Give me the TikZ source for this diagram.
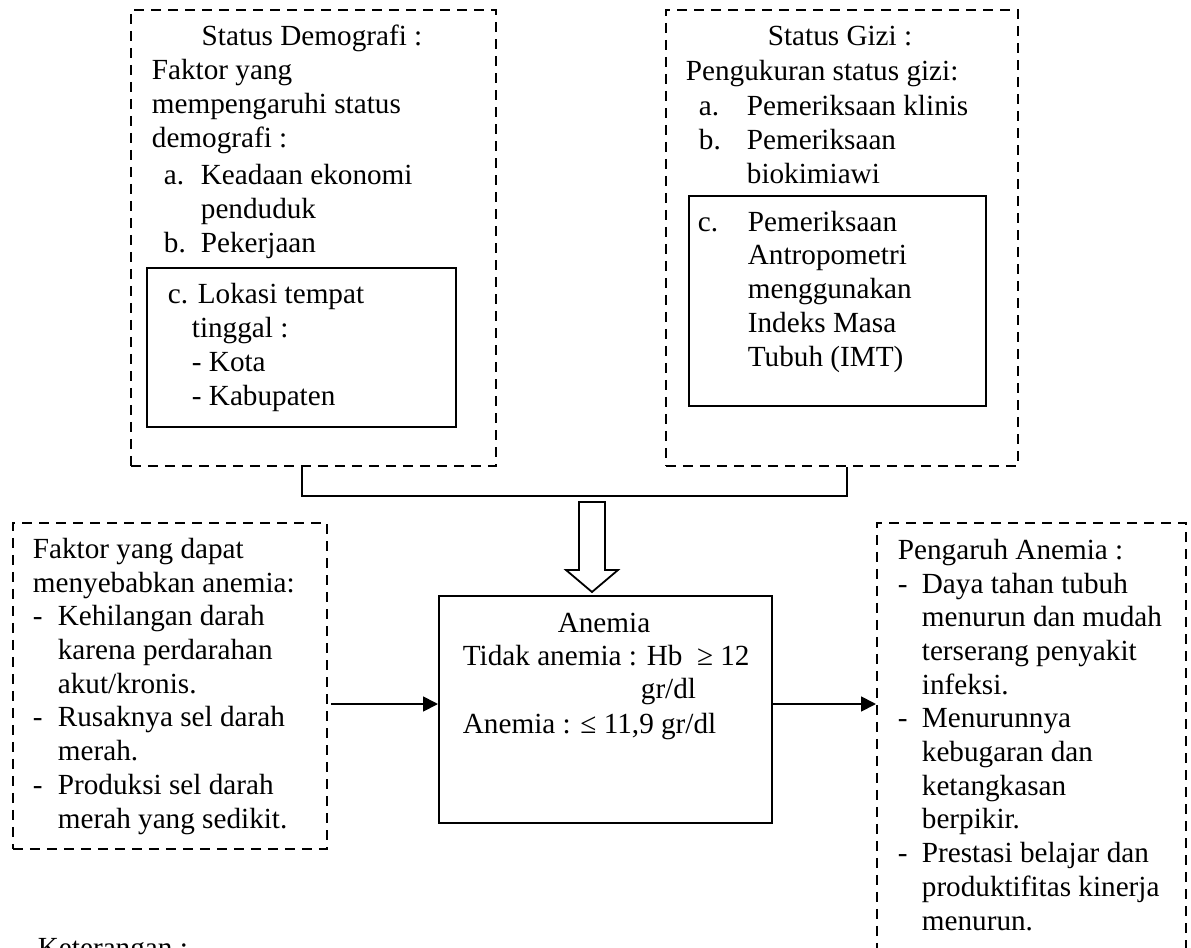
\documentclass[tikz,border=0pt]{standalone}
\usepackage{fontspec}
\setmainfont{Liberation Serif}
\usetikzlibrary{arrows.meta}

\newcommand{\bodyfont}{\fontsize{14.6pt}{16.85pt}\selectfont}

\begin{document}
\begin{tikzpicture}[x=0.5pt,y=-0.5pt,>={Triangle[length=7.5pt,width=7.5pt]},line width=0.9pt,
    dashbox/.style={draw,dash pattern=on 5pt off 3.5pt,anchor=north west,inner sep=0pt},
    solidbox/.style={draw,anchor=north west,inner sep=0pt},
    txt/.style={anchor=base west,inner sep=0pt,align=left,font=\bodyfont},
    ttl/.style={anchor=base,inner sep=0pt,font=\bodyfont}]
      \clip (0,0) rectangle (1191,948);

      % boxes
      \node[dashbox, minimum width=182.5pt, minimum height=228pt] (demo) at (130,9) {};
      \node[solidbox, minimum width=154.5pt, minimum height=79.5pt] (lokasi) at (146,267) {};
      \node[dashbox, minimum width=176pt, minimum height=228pt] (gizi) at (665,9) {};
      \node[solidbox, minimum width=148.5pt, minimum height=105pt] (antro) at (688,195) {};
      \node[dashbox, minimum width=157pt, minimum height=163pt] (sebab) at (12,522) {};
      \node[solidbox, minimum width=166.5pt, minimum height=113.5pt] (anemia) at (438,595) {};
      \node[dashbox, minimum width=154.5pt, minimum height=229pt] (pengaruh) at (876,522) {};

      % status demografi (multi-line texts sit on their last baseline)
      \node[ttl] (demotitle) at (312,45) {Status Demografi :};
      \node[txt] (demotext) at (151,147) {Faktor yang\\mempengaruhi status\\demografi :};
      \node[txt] (demolist) at (163,252) {\makebox[18.5pt][l]{a.}Keadaan ekonomi\\\hspace*{18.5pt}penduduk\\\makebox[18.5pt][l]{b.}Pekerjaan};
      \node[txt] (lokasitext) at (167,405) {c. Lokasi tempat\\\hspace*{12pt}tinggal :\\\hspace*{12pt}- Kota\\\hspace*{12pt}- Kabupaten};

      % status gizi
      \node[ttl] (gizititle) at (840,45) {Status Gizi :};
      \node[txt] (gizitext) at (685,80) {Pengukuran status gizi:};
      \node[txt] (gizilist) at (698,183) {\makebox[24pt][l]{a.}Pemeriksaan klinis\\\makebox[24pt][l]{b.}Pemeriksaan\\\hspace*{24pt}biokimiawi};
      \node[txt] (antrotext) at (697,366) {\makebox[25pt][l]{c.}Pemeriksaan\\\hspace*{25pt}Antropometri\\\hspace*{25pt}menggunakan\\\hspace*{25pt}Indeks Masa\\\hspace*{25pt}Tubuh (IMT)};

      % penyebab, anemia, pengaruh
      \node[txt] (sebabtext) at (32,828) {Faktor yang dapat\\menyebabkan anemia:\\\makebox[12.5pt][l]{-}Kehilangan darah\\\hspace*{12.5pt}karena perdarahan\\\hspace*{12.5pt}akut/kronis.\\\makebox[12.5pt][l]{-}Rusaknya sel darah\\\hspace*{12.5pt}merah.\\\makebox[12.5pt][l]{-}Produksi sel darah\\\hspace*{12.5pt}merah yang sedikit.};
      \node[ttl] (anemiatitle) at (604,632) {Anemia};
      \node[txt] (anemiaa) at (462,665) {Tidak anemia : Hb \ ≥ 12};
      \node[txt] (anemiab) at (640,698) {gr/dl};
      \node[txt] (anemiac) at (462,733) {Anemia : ≤ 11,9 gr/dl};
      \node[txt] (pengaruhtext) at (897,930) {Pengaruh Anemia :\\\makebox[12pt][l]{-}Daya tahan tubuh\\\hspace*{12pt}menurun dan mudah\\\hspace*{12pt}terserang penyakit\\\hspace*{12pt}infeksi.\\\makebox[12pt][l]{-}Menurunnya\\\hspace*{12pt}kebugaran dan\\\hspace*{12pt}ketangkasan\\\hspace*{12pt}berpikir.\\\makebox[12pt][l]{-}Prestasi belajar dan\\\hspace*{12pt}produktifitas kinerja\\\hspace*{12pt}menurun.};
      \node[txt] (ket) at (37,957) {Keterangan :};

      % joining line and block arrow
      \coordinate (jl) at (302,496);
      \coordinate (jr) at (847,496);
      \draw (demo.south -| jl) -- (jl) -- (jr) -- (gizi.south -| jr);
      \draw (579,502) -- (605,502) -- (605,570) -- (618,570) -- (592,592) -- (566,570) -- (579,570) -- cycle;

      % arrows
      \coordinate (ar) at (0,704);
      \draw[->] ([xshift=1.5pt]sebab.east |- ar) -- (anemia.west |- ar);
      \draw[->] (anemia.east |- ar) -- (pengaruh.west |- ar);
\end{tikzpicture}
\end{document}
